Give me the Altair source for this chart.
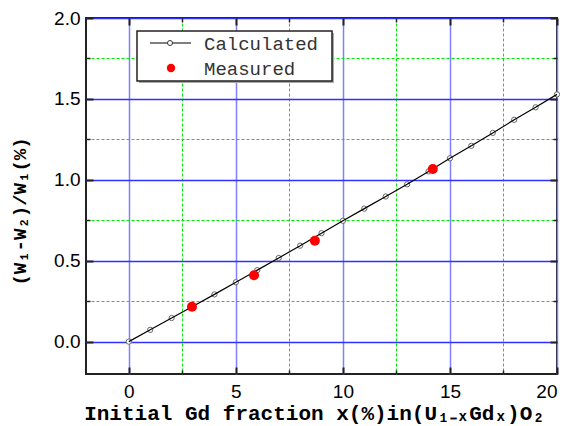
import altair as alt
import pandas as pd

CALC_X = list(range(0, 21))
CALC_Y = [0.0, 0.073, 0.146, 0.219, 0.292, 0.367, 0.442, 0.517, 0.593, 0.670,
          0.747, 0.822, 0.897, 0.972, 1.052, 1.133, 1.210, 1.290, 1.371, 1.448, 1.528]
MEAS_X = [2.95, 5.85, 8.69, 14.2]
MEAS_Y = [0.216, 0.41, 0.624, 1.067]
X_MAJOR = [0, 5, 10, 15, 20]
X_MINOR = [2.5, 7.5, 12.5, 17.5]
Y_MAJOR = [0.0, 0.5, 1.0, 1.5, 2.0]
Y_MINOR = [0.25, 0.75, 1.25, 1.75]
LEGEND_LABELS = ["Calculated", "Measured"]
X_TITLE = "Initial Gd fraction x(%)in(U\u2081\u208b\u2093Gd\u2093)O\u2082"
Y_TITLE = "(W\u2081-W\u2082)/W\u2081(%)"

calc = pd.DataFrame({"x": CALC_X, "y": CALC_Y})
meas = pd.DataFrame({"x": MEAS_X, "y": MEAS_Y})

xs = alt.Scale(domain=[-2, 20], nice=False, zero=False)
ys = alt.Scale(domain=[-0.2, 2.0], nice=False, zero=False)

BLUE_V = "#7f7fff"
BLUE_H = "#3030ff"
GREEN = "#00e600"
TICK = "#222222"


def axis(orient, values, major, grid=False, grid_color=None, dash=None,
         labels=False, fmt=None, title_kw=None):
    size = 7 if major else 4
    kw = dict(orient=orient, values=values, offset=-size, tickSize=size,
              tickColor=TICK, tickWidth=2 if major else 1.5, domain=False,
              labels=labels, grid=grid)
    if grid:
        kw.update(gridColor=grid_color, gridWidth=1.5 if dash is None else 1)
        if dash is not None:
            kw.update(gridDash=dash)
    if labels:
        kw.update(labelFont="Liberation Sans", labelFontSize=19, labelColor="black",
                  labelPadding=8 if orient == "bottom" else 6)
        if fmt:
            kw.update(format=fmt)
    if title_kw:
        kw.update(title_kw)
    return alt.Axis(**kw)


# Layer 1: calculated line, major bottom/left axes with labels and titles
l1 = alt.Chart(calc).mark_line(color="black", strokeWidth=1.2).encode(
    x=alt.X("x:Q", scale=xs, title=X_TITLE,
            axis=axis("bottom", X_MAJOR, True, grid=True, grid_color=BLUE_V,
                      labels=True, fmt="d",
                      title_kw=dict(titleFont="Liberation Mono", titleFontSize=21,
                                    titleFontWeight="bold", titleColor="black",
                                    titleBaseline="alphabetic", titleX=228, titleY=52))),
    y=alt.Y("y:Q", scale=ys, title=Y_TITLE,
            axis=axis("left", Y_MAJOR, True, grid=True, grid_color=BLUE_H,
                      labels=True, fmt=".1f",
                      title_kw=dict(titleFont="Liberation Mono", titleFontSize=19,
                                    titleFontWeight="bold", titleColor="black",
                                    titleBaseline="alphabetic", titleX=-68, titleY=193))),
)

# Layer 2: calculated open circles, minor bottom/left axes with dashed green grid
l2 = alt.Chart(calc).mark_point(shape="circle", filled=True, fill="white",
                                stroke="#666666", strokeWidth=1, size=28, opacity=1).encode(
    x=alt.X("x:Q", scale=xs, title=None,
            axis=axis("bottom", X_MINOR, False, grid=True, grid_color=GREEN, dash=[3, 2])),
    y=alt.Y("y:Q", scale=ys, title=None,
            axis=axis("left", Y_MINOR, False, grid=True, grid_color=GREEN, dash=[3, 2])),
)

# Layer 3: measured points, major top/right ticks
l3 = alt.Chart(meas).mark_point(shape="circle", filled=True, color="#ff0000",
                                size=100, opacity=1).encode(
    x=alt.X("x:Q", scale=xs, title=None, axis=axis("top", X_MAJOR, True)),
    y=alt.Y("y:Q", scale=ys, title=None, axis=axis("right", Y_MAJOR, True)),
)

# Layer 4: invisible, minor top/right ticks
l4 = alt.Chart(meas).mark_point(opacity=0).encode(
    x=alt.X("x:Q", scale=xs, title=None, axis=axis("top", X_MINOR, False)),
    y=alt.Y("y:Q", scale=ys, title=None, axis=axis("right", Y_MINOR, False)),
)

one = pd.DataFrame({"label": [LEGEND_LABELS[0]]})
two = pd.DataFrame({"label": [LEGEND_LABELS[1]]})

shadow = alt.Chart(one).mark_rect(fill="#aaaaaa").encode(
    x=alt.value(53), x2=alt.value(248), y=alt.value(15), y2=alt.value(65))
box = alt.Chart(one).mark_rect(fill="white", stroke="#222222", strokeWidth=1.5).encode(
    x=alt.value(51), x2=alt.value(246), y=alt.value(13), y2=alt.value(63))
leg_line = alt.Chart(one).mark_rule(color="#555555", strokeWidth=1.5).encode(
    x=alt.value(64), x2=alt.value(105), y=alt.value(25))
leg_circ = alt.Chart(one).mark_point(shape="circle", filled=True, fill="white",
                                     stroke="#333333", strokeWidth=1, size=25,
                                     opacity=1).encode(x=alt.value(84), y=alt.value(25))
leg_dot = alt.Chart(two).mark_point(shape="circle", filled=True, color="#ff0000",
                                    size=70, opacity=1).encode(x=alt.value(85), y=alt.value(50))
txt_kw = dict(align="left", baseline="middle", font="Liberation Mono", fontSize=19,
              color="#333333")
leg_t1 = alt.Chart(one).mark_text(**txt_kw).encode(x=alt.value(118), y=alt.value(26),
                                                    text="label:N")
leg_t2 = alt.Chart(two).mark_text(**txt_kw).encode(x=alt.value(118), y=alt.value(51),
                                                    text="label:N")

chart = alt.layer(l2, l1, l4, l3, shadow, box, leg_line, leg_circ, leg_dot, leg_t1, leg_t2
                  ).resolve_axis(x="independent", y="independent").properties(
    width=471, height=356,
    autosize=alt.AutoSizeParams(type="none"),
    padding={"left": 78, "top": 10, "right": 3, "bottom": 50},
).configure_view(stroke="#222222", strokeWidth=2)

chart.save("out.html", embed_options={"renderer": "svg", "actions": False})
